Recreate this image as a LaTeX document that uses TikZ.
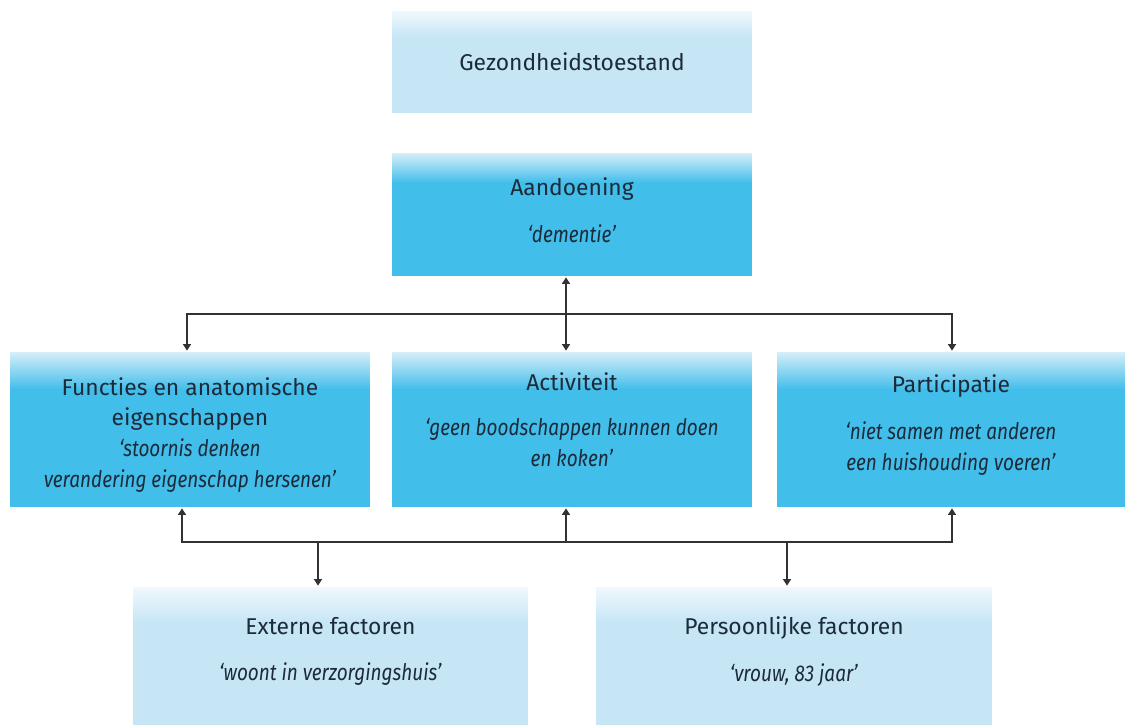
\documentclass[tikz,border=0pt]{standalone}
\usepackage{fontspec}
\setmainfont{Fira Sans}[ItalicFeatures={FakeStretch=0.83}]
\usetikzlibrary{arrows.meta,positioning}
\definecolor{icfcyan}{RGB}{66,190,234}
\definecolor{icfcyantop}{RGB}{214,238,250}
\definecolor{icflight}{RGB}{198,230,246}
\definecolor{icflighttop}{RGB}{240,248,253}
\definecolor{icftext}{RGB}{28,42,58}
\definecolor{icfline}{RGB}{50,50,50}
\pgfdeclareverticalshading{cyanfade}{100bp}{color(0bp)=(icfcyan); color(63bp)=(icfcyan); color(75bp)=(icfcyantop); color(100bp)=(icfcyantop)}
\pgfdeclareverticalshading{lightfade}{100bp}{color(0bp)=(icflight); color(62bp)=(icflight); color(75bp)=(icflighttop); color(100bp)=(icflighttop)}

\begin{document}
\begin{tikzpicture}[x=0.02cm, y=-0.02cm,
  boxtext/.style={align=center, text=icftext, inner sep=0pt,
               font=\fontsize{13}{17.6}\selectfont},
  every label/.style={boxtext},
  darkbox/.style={shade, shading=cyanfade, draw=none, inner sep=0pt},
  lightbox/.style={shade, shading=lightfade, draw=none, inner sep=0pt},
  arr/.style={-{Triangle[length=1.3mm,width=1.6mm]}, line width=0.8pt, icfline, shorten >=0.6pt},
  dbl/.style={{Triangle[length=1.3mm,width=1.6mm]}-{Triangle[length=1.3mm,width=1.6mm]},
               line width=0.8pt, icfline, shorten >=0.6pt, shorten <=0.6pt}]
\useasboundingbox (0,0) rectangle (1125,724);
\node[lightbox, minimum width=7.2cm, minimum height=2.04cm,
      label={center:Gezondheidstoestand}] (gez) at (572,62) {};
\node[darkbox, minimum width=7.2cm, minimum height=2.46cm,
      label={[yshift=2.3pt]center:Aandoening\\[9pt]\textit{‘dementie’}}] (aand) at (572,214.5) {};
\node[darkbox, minimum width=7.2cm, minimum height=3.1cm,
      label={[yshift=-3.1pt]center:Functies en anatomische\\eigenschappen\\\textit{‘stoornis denken}\\\textit{verandering eigenschap hersenen’}}] (func) at (190,429.5) {};
\node[darkbox, minimum width=7.2cm, minimum height=3.1cm,
      label={[yshift=5.4pt]center:Activiteit\\[8pt]\textit{‘geen boodschappen kunnen doen}\\\textit{en koken’}}] (act) at (572,429.5) {};
\node[darkbox, minimum width=6.96cm, minimum height=3.1cm,
      label={[yshift=2.5pt]center:Participatie\\[9pt]\textit{‘niet samen met anderen}\\\textit{een huishouding voeren’}}] (part) at (951,429.5) {};
\node[lightbox, minimum width=7.9cm, minimum height=2.74cm,
      label={[yshift=2.3pt]center:Externe factoren\\[9pt]\textit{‘woont in verzorgingshuis’}}] (ext) at (330.5,655.5) {};
\node[lightbox, minimum width=7.92cm, minimum height=2.74cm,
      label={[yshift=2.3pt]center:Persoonlijke factoren\\[9pt]\textit{‘vrouw, 83 jaar’}}] (pers) at (794,655.5) {};
\coordinate (tl) at (187,314);
\coordinate (tm) at (566,314);
\coordinate (tr) at (952,314);
\coordinate (bl) at (182,542);
\coordinate (be) at (318,542);
\coordinate (bm) at (566,542);
\coordinate (bp) at (787,542);
\coordinate (br) at (952,542);
\draw[dbl] (func.north -| tl) -- (tl) -- (tr) -- (part.north -| tr);
\draw[dbl] (aand.south -| tm) -- (act.north -| tm);
\draw[dbl] (func.south -| bl) -- (bl) -- (br) -- (part.south -| br);
\draw[arr] (bm) -- (act.south -| bm);
\draw[arr] (be) -- (ext.north -| be);
\draw[arr] (bp) -- (pers.north -| bp);
\end{tikzpicture}
\end{document}
